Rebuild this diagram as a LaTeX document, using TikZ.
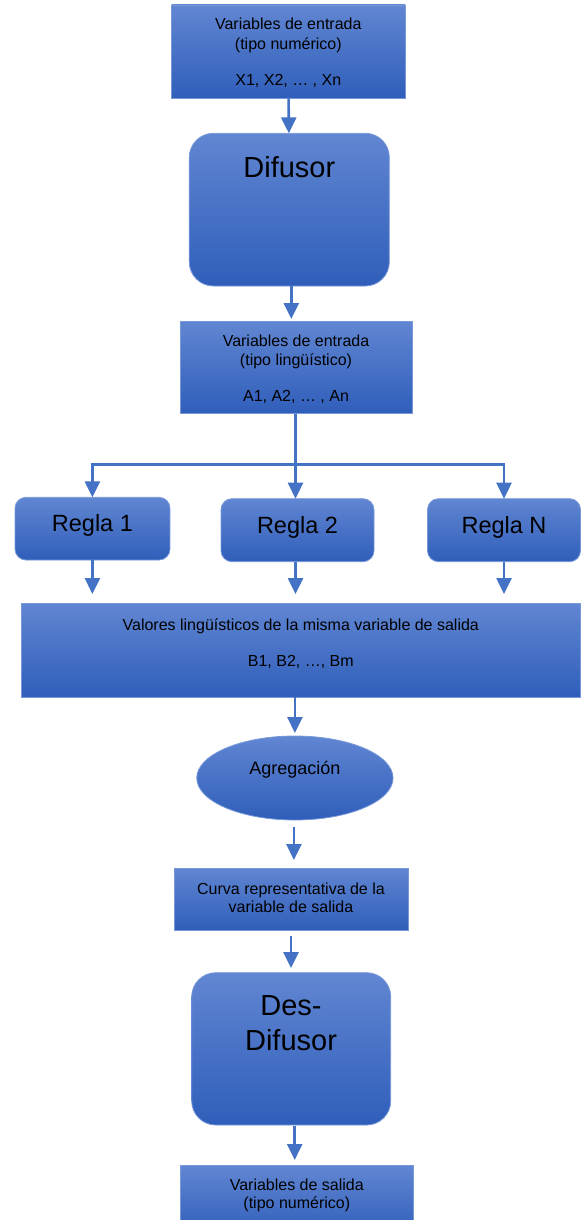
\documentclass[tikz,border=0pt]{standalone}
\usepackage{fontspec}
\setmainfont{Liberation Sans}
\usetikzlibrary{arrows.meta,shapes.geometric,calc}
\definecolor{gtop}{RGB}{97,134,210}
\definecolor{gbot}{RGB}{47,94,186}
\definecolor{gedge}{RGB}{120,152,218}
\definecolor{arrowc}{RGB}{68,114,196}
\begin{document}
\begin{tikzpicture}[x=1pt,y=-1pt,
  shaded/.style={draw=gedge, line width=0.8pt, top color=gtop, bottom color=gbot, inner sep=0pt, outer sep=0pt},
  sbox/.style={shaded, rectangle, anchor=north west},
  rbox/.style={shaded, rectangle, rounded corners=#1, anchor=north west},
  txt/.style={anchor=base, inner sep=0pt, text=black, font=\fontsize{16}{19}\selectfont},
  bigtxt/.style={anchor=base, inner sep=0pt, text=black, font=\fontsize{29}{35}\selectfont},
  regtxt/.style={anchor=base, inner sep=0pt, text=black, font=\fontsize{23.5}{28}\selectfont},
  agrtxt/.style={anchor=base, inner sep=0pt, text=black, font=\fontsize{18}{22}\selectfont},
  ln/.style={draw=arrowc, line width=2.6pt},
  arr/.style={ln, -{Triangle[width=15pt,length=16pt]}}]
\useasboundingbox (0,0) rectangle (582,1220);

% boxes
\node[sbox, minimum width=233.3pt, minimum height=93.3pt] (in1) at (171.7,5) {};
\node[rbox=24pt, minimum width=200pt, minimum height=152.7pt] (dif) at (189.3,133.3) {};
\node[sbox, minimum width=232pt, minimum height=92.5pt] (in2) at (180,321) {};
\node[rbox=11pt, minimum width=155pt, minimum height=62.7pt] (r1) at (15,497.3) {};
\node[rbox=11pt, minimum width=153pt, minimum height=63pt] (r2) at (221,498.7) {};
\node[rbox=11pt, minimum width=153pt, minimum height=63pt] (rN) at (427.5,498.7) {};
\node[sbox, minimum width=558.4pt, minimum height=94pt] (val) at (21.6,603) {};
\node[shaded, ellipse, minimum width=196.3pt, minimum height=84pt] (agr) at (294.9,778) {};
\node[sbox, minimum width=234pt, minimum height=62pt] (cur) at (174,868) {};
\node[rbox=24pt, minimum width=199pt, minimum height=152.3pt] (des) at (191.7,972.7) {};
\node[sbox, minimum width=232.3pt, minimum height=70pt] (out) at (180.7,1165.7) {};

% texts
\node[txt] (t1a) at (288.3,30) {Variables de entrada};
\node[txt] (t1b) at (288.3,49.5) {(tipo numérico)};
\node[txt] (t1c) at (288.3,85.7) {X1, X2, … , Xn};
\node[bigtxt] (tdif) at (289.3,177.7) {Difusor};
\node[txt] (t2a) at (296,346) {Variables de entrada};
\node[txt] (t2b) at (296,365.5) {(tipo lingüístico)};
\node[txt] (t2c) at (296,401.7) {A1, A2, … , An};
\node[regtxt] (tr1) at (92.4,531.7) {Regla 1};
\node[regtxt] (tr2) at (297.5,533) {Regla 2};
\node[regtxt] (trN) at (504,533) {Regla N};
\node[txt] (tva) at (300.8,630) {Valores lingüísticos de la misma variable de salida};
\node[txt] (tvb) at (300.8,666) {B1, B2, …, Bm};
\node[agrtxt] (tagr) at (294.9,774) {Agregación};
\node[txt] (tca) at (291,894.3) {Curva representativa de la};
\node[txt] (tcb) at (291,912.3) {variable de salida};
\node[bigtxt] (tda) at (291,1015) {Des-};
\node[bigtxt] (tdb) at (291,1050.7) {Difusor};
\node[txt] (toa) at (296.8,1190.7) {Variables de salida};
\node[txt] (tob) at (296.8,1208) {(tipo numérico)};

% connectors
\coordinate (bL) at (92.4,464.3);
\coordinate (bR) at (504,464.3);
\coordinate (bM) at (295.5,464.3);

\draw[arr] (in1) -- (dif);
\draw[arr] ($(dif.south)+(2,0)$) -- ($(dif.south |- in2.north)+(2,-2)$);
\draw[ln] (in2.south -| bM) -- (bM);
\draw[ln] (bL) -- (bR);
\draw[arr] ($(bL)+(0,-1.5)$) -- (bL |- r1.north);
\draw[arr] (bM) -- (bM |- r2.north);
\draw[arr] ($(bR)+(0,-1.5)$) -- (bR |- rN.north);
\draw[arr] (bL |- r1.south) -- ($(bL |- val.north)+(0,-9)$);
\draw[arr] (bM |- r2.south) -- ($(bM |- val.north)+(0,-9)$);
\draw[arr] (bR |- rN.south) -- ($(bR |- val.north)+(0,-9)$);
\draw[arr] (agr.north |- val.south) -- ($(agr.north)+(0,-3)$);
\draw[arr] ($(agr.south)+(-1,6.7)$) -- ($(agr.south |- cur.north)+(-1,-8)$);
\draw[arr] ($(cur.south)+(0,6)$) -- ($(cur.south |- des.north)+(0,-4.7)$);
\draw[arr] ($(des.south)+(3.5,0.7)$) -- ($(des.south |- out.north)+(3.5,-5.7)$);
\end{tikzpicture}
\end{document}
